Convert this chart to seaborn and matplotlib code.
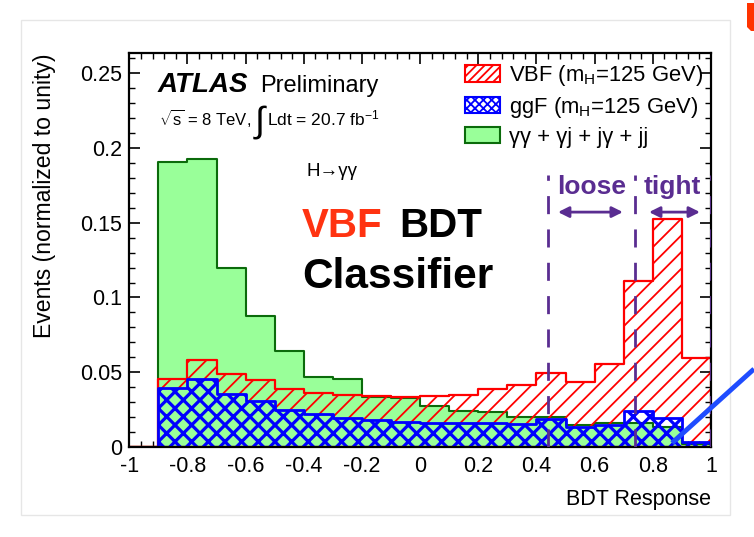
import numpy as np
import pandas as pd
import matplotlib
matplotlib.use("Agg")
import matplotlib.pyplot as plt
import seaborn as sns
from matplotlib.patches import Patch, Rectangle, Polygon
from matplotlib.lines import Line2D
from matplotlib.ticker import MultipleLocator, FuncFormatter

# ---------------- data ----------------
bin_edges = [-1.0, -0.9, -0.8, -0.7, -0.6, -0.5, -0.4, -0.3, -0.2, -0.1, 0.0,
             0.1, 0.2, 0.3, 0.4, 0.5, 0.6, 0.7, 0.8, 0.9, 1.0]
bkg_vals = [0.0, 0.1904, 0.1922, 0.1196, 0.0876, 0.0642, 0.0467, 0.0453, 0.0338, 0.0330,
            0.0276, 0.0240, 0.0236, 0.0204, 0.0200, 0.0150, 0.0162, 0.0160, 0.0137, 0.0020]
vbf_vals = [0.0, 0.0453, 0.0584, 0.0491, 0.0447, 0.0391, 0.0364, 0.0347, 0.0342, 0.0335,
            0.0343, 0.0352, 0.0389, 0.0415, 0.0498, 0.0438, 0.0553, 0.1109, 0.1522, 0.0593]
ggf_vals = [0.0, 0.0396, 0.0458, 0.0358, 0.0309, 0.0247, 0.0220, 0.0196, 0.0180, 0.0172,
            0.0165, 0.0162, 0.0160, 0.0158, 0.0186, 0.0133, 0.0147, 0.0243, 0.0195, 0.0035]
cut_values = [0.44, 0.74, 1.0]
cut_top = 0.182
legend_labels = ["VBF (m$_\\mathregular{H}$=125 GeV)",
                 "ggF (m$_\\mathregular{H}$=125 GeV)",
                 "γγ + γj + jγ + jj"]

centers = [(a + b) / 2 for a, b in zip(bin_edges[:-1], bin_edges[1:])]
df = pd.DataFrame({"x": centers, "bkg": bkg_vals, "vbf": vbf_vals, "ggf": ggf_vals})

# ---------------- style ----------------
sns.set_theme(style="ticks")
plt.rcParams["font.family"] = ["Liberation Sans", "DejaVu Sans"]
plt.rcParams["mathtext.fontset"] = "custom"
plt.rcParams["mathtext.rm"] = "Liberation Sans"
plt.rcParams["mathtext.it"] = "Liberation Sans:italic"
plt.rcParams["mathtext.bf"] = "Liberation Sans:bold"
plt.rcParams["axes.unicode_minus"] = False
plt.rcParams["text.color"] = "black"
plt.rcParams["axes.labelcolor"] = "black"
plt.rcParams["xtick.color"] = "black"
plt.rcParams["ytick.color"] = "black"
plt.rcParams["hatch.linewidth"] = 1.3

W, H = 754, 537
fig = plt.figure(figsize=(W / 100, H / 100), dpi=100)
fig.patch.set_facecolor("white")

def P(x, y):
    return (x / W, 1 - y / H)

x0, x1, y0, y1 = 129.3, 711.0, 52.7, 447.3
ax = fig.add_axes([x0 / W, 1 - y1 / H, (x1 - x0) / W, (y1 - y0) / H])
ax.set_facecolor("white")

GREEN_F = "#99ff99"
GREEN_E = "#0b6b0b"
RED = "#ff0000"
BLUE = "#0000ff"
PURPLE = "#5a2d91"

def set_hlw(artist, lw):
    try:
        artist.set_hatch_linewidth(lw)
    except Exception:
        pass

sns.histplot(data=df, x="x", weights="bkg", bins=bin_edges, element="step", fill=True,
             color=GREEN_F, facecolor=GREEN_F, edgecolor=GREEN_E, linewidth=1.5,
             alpha=1, ax=ax)
with plt.rc_context({"hatch.linewidth": 1.3}):
    sns.histplot(data=df, x="x", weights="vbf", bins=bin_edges, element="step", fill=True,
                 color=RED, facecolor="none", edgecolor=RED, hatch="//", linewidth=1.6,
                 ax=ax)
set_hlw(ax.collections[-1], 1.3)
with plt.rc_context({"hatch.linewidth": 2.3}):
    sns.histplot(data=df, x="x", weights="ggf", bins=bin_edges, element="step", fill=True,
                 color=BLUE, facecolor="none", edgecolor=BLUE, hatch="xx", linewidth=2.0,
                 ax=ax)
set_hlw(ax.collections[-1], 2.3)

# category cut lines
ax.vlines(cut_values, 0, cut_top, colors=PURPLE, linewidth=2.0,
          linestyles=[(0, (6.5, 5.5))], zorder=5)

ax.annotate("", xy=(0.474, 0.157), xytext=(0.697, 0.157),
            arrowprops=dict(arrowstyle="<|-|>", color=PURPLE, lw=2, mutation_scale=16,
                            shrinkA=0, shrinkB=0))
ax.annotate("", xy=(0.787, 0.157), xytext=(0.962, 0.157),
            arrowprops=dict(arrowstyle="<|-|>", color=PURPLE, lw=2, mutation_scale=16,
                            shrinkA=0, shrinkB=0))
ax.text(0.59, 0.1737, "loose", color=PURPLE, fontsize=19, fontweight="bold",
        ha="center", va="center")
ax.text(0.866, 0.1737, "tight", color=PURPLE, fontsize=19, fontweight="bold",
        ha="center", va="center")

# axes styling
ax.set_xlim(-1, 1)
ax.set_ylim(0, 0.2634)
ax.set_xlabel("")
ax.set_ylabel("")
ax.xaxis.set_major_locator(MultipleLocator(0.2))
ax.xaxis.set_minor_locator(MultipleLocator(0.04))
ax.yaxis.set_major_locator(MultipleLocator(0.05))
ax.yaxis.set_minor_locator(MultipleLocator(0.01))

def fmt(v, p):
    v = round(v, 6)
    if v == 0:
        return "0"
    return f"{v:g}"

ax.xaxis.set_major_formatter(FuncFormatter(fmt))
ax.yaxis.set_major_formatter(FuncFormatter(fmt))
ax.tick_params(which="both", direction="in", top=True, right=True, colors="black",
               labelsize=15.5)
ax.tick_params(which="major", length=8, width=1.2)
ax.tick_params(which="minor", length=4.5, width=1.0)
ax.tick_params(axis="x", which="major", pad=6)
ax.tick_params(axis="y", which="major", pad=5)
for s in ax.spines.values():
    s.set_visible(True)
    s.set_linewidth(1.6)
    s.set_color("black")

# legend
handles = [Patch(facecolor="white", edgecolor=RED, hatch="////", linewidth=1.5),
           Patch(facecolor="white", edgecolor=BLUE, hatch="xxxx", linewidth=1.5),
           Patch(facecolor=GREEN_F, edgecolor=GREEN_E, linewidth=1.5)]
for h in handles[:2]:
    set_hlw(h, 1.2)
leg = ax.legend(handles=handles, labels=legend_labels, loc="upper left",
                bbox_to_anchor=P(465, 63), bbox_transform=fig.transFigure,
                frameon=False, fontsize=15.8, handlelength=1.6, handleheight=0.78,
                handletextpad=0.4, labelspacing=0.31, borderpad=0, borderaxespad=0)
for t in leg.get_texts():
    t.set_color("black")

# texts
fig.text(*P(45, 53), "Events (normalized to unity)", rotation=90, ha="center", va="top",
         fontsize=16.6)
fig.text(*P(711, 500), "BDT Response", ha="right", va="center", fontsize=15.5)

fig.text(*P(158, 92), "ATLAS", fontsize=20, fontweight="bold", style="italic",
         ha="left", va="baseline")
fig.text(*P(260, 92), "Preliminary", fontsize=17, ha="left", va="baseline")
fig.text(*P(159, 125), "$\\sqrt{\\mathregular{s}}$ = 8 TeV,", fontsize=12,
         ha="left", va="baseline")
fig.text(*P(255, 132), "∫", fontsize=26, ha="left", va="baseline")
fig.text(*P(267, 125), "Ldt = 20.7 fb$^{\\mathregular{-1}}$", fontsize=12.5,
         ha="left", va="baseline")
fig.text(*P(306, 172), "H→γγ", fontsize=13.5, ha="left", va="center")

fig.text(*P(302, 236.7), "VBF", fontsize=29, fontweight="bold", color="#ff3311",
         ha="left", va="baseline")
fig.text(*P(399, 236.7), "BDT", fontsize=29, fontweight="bold", color="black",
         ha="left", va="baseline")
fig.text(*P(302, 288), "Classifier", fontsize=30.5, fontweight="bold", color="black",
         ha="left", va="baseline")

# slide decorations
fig.add_artist(Rectangle(P(21, 515), (730 - 21) / W, (515 - 20) / H,
                         transform=fig.transFigure, facecolor="none",
                         edgecolor="#e6e6e6", linewidth=1.0, zorder=-1))
fig.add_artist(Line2D([672 / W, 1.0], [1 - 443 / H, 1 - 369 / H],
                      transform=fig.transFigure, color="#1f4cff", lw=3.5,
                      solid_capstyle="butt", zorder=10))
fig.add_artist(Polygon([P(747, 3), P(754, 3), P(754, 31), P(751, 31), P(747, 27)],
                       closed=True, transform=fig.transFigure, facecolor="#ff3300",
                       edgecolor="none", zorder=10))

fig.savefig("out.png", dpi=100)
